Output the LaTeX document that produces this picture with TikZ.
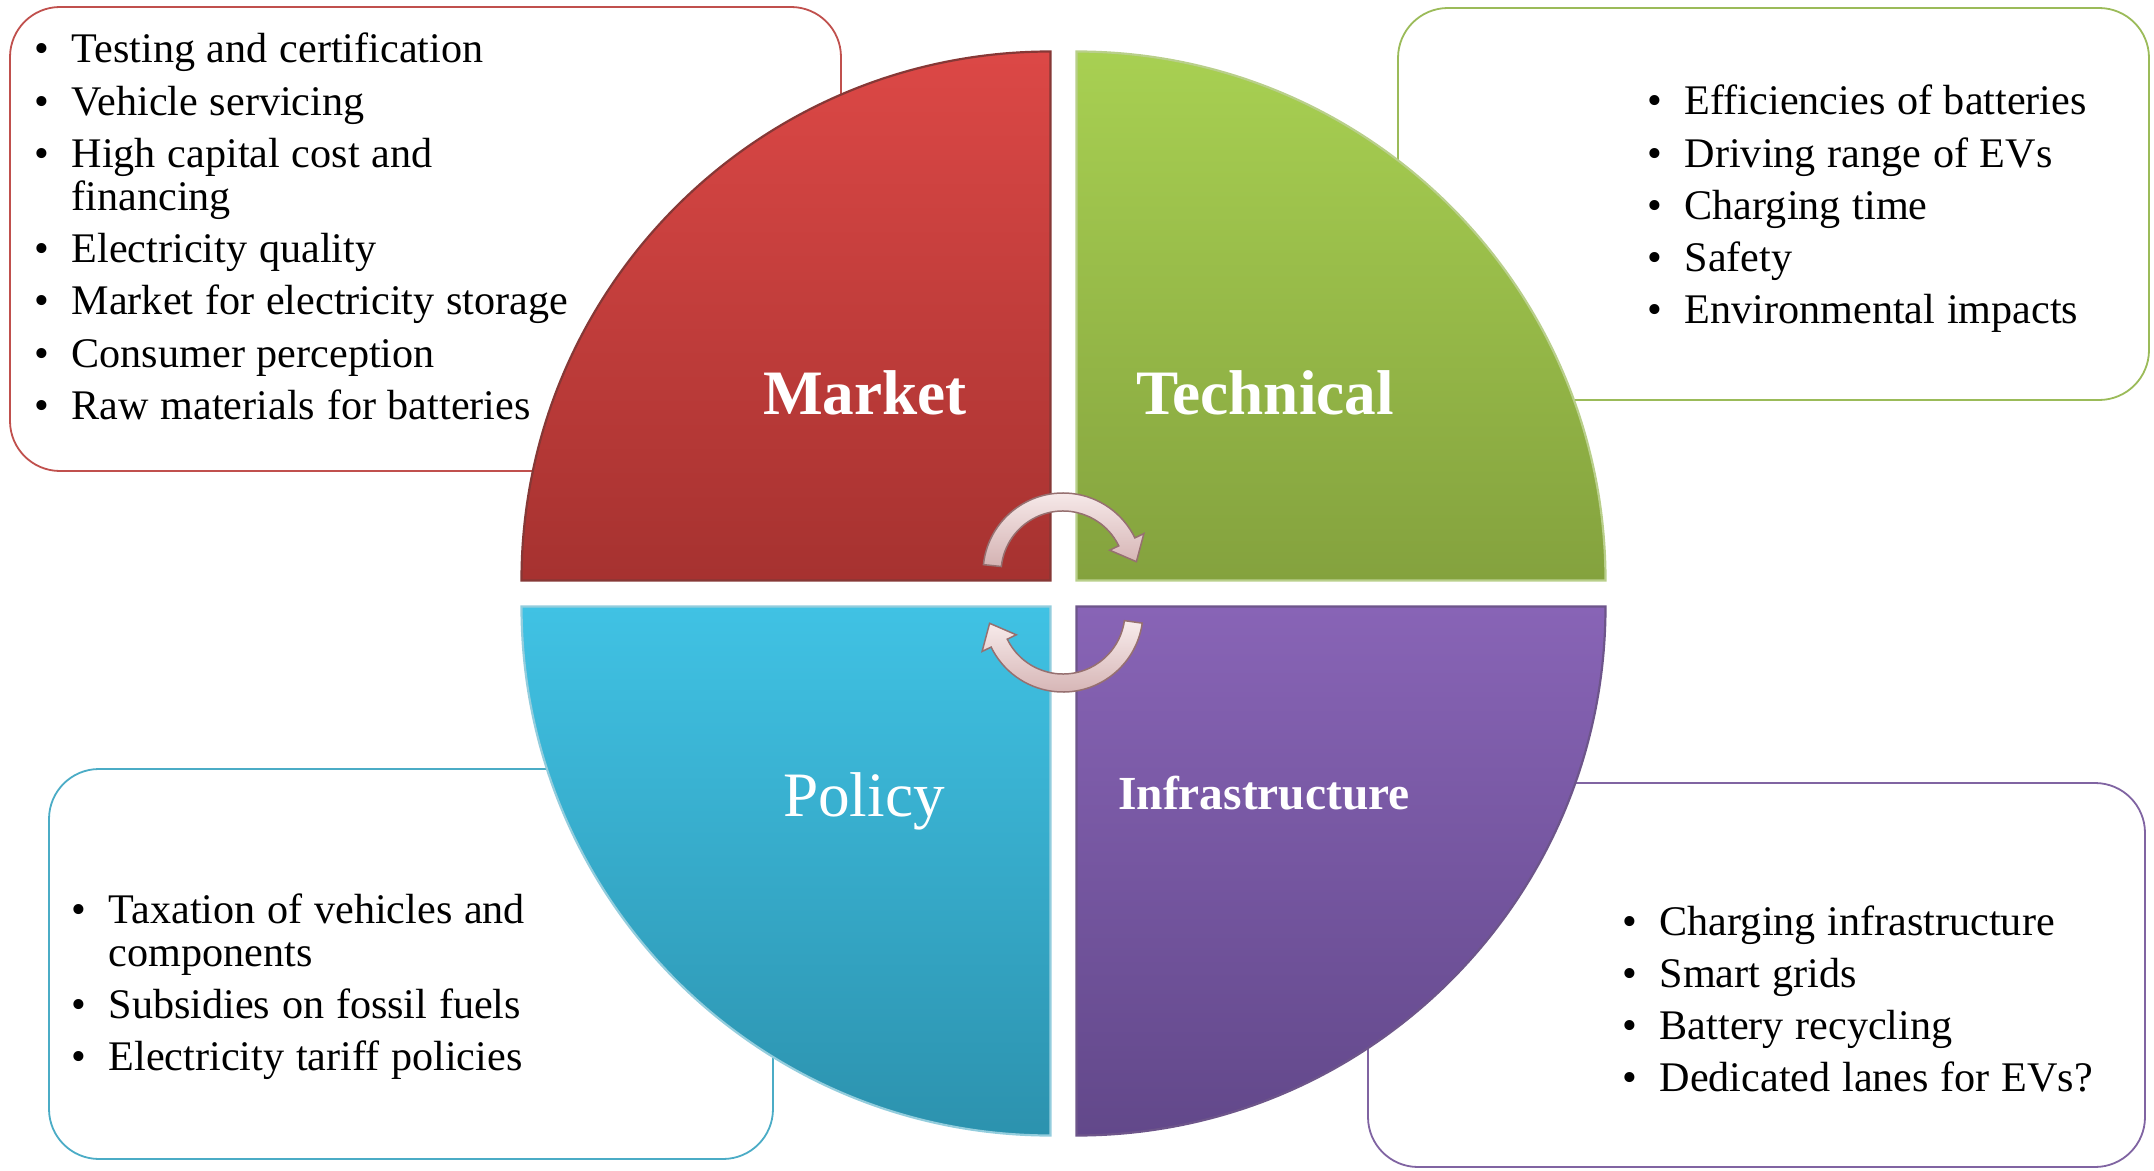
\documentclass[tikz,border=0pt]{standalone}
\usepackage{fontspec}
\setmainfont{Liberation Serif}
\usetikzlibrary{calc}

\definecolor{mktred}{HTML}{C0504D}
\definecolor{tecgreen}{HTML}{9BBB59}
\definecolor{polblue}{HTML}{4BACC6}
\definecolor{infpurple}{HTML}{8064A2}
\definecolor{mkttop}{RGB}{220,72,70}
\definecolor{mktbot}{RGB}{166,50,48}
\definecolor{tectop}{RGB}{168,208,82}
\definecolor{tecbot}{RGB}{132,162,62}
\definecolor{poltop}{RGB}{64,194,228}
\definecolor{polbot}{RGB}{44,146,174}
\definecolor{inftop}{RGB}{136,100,182}
\definecolor{infbot}{RGB}{98,72,138}
\definecolor{turnlight}{RGB}{248,236,236}
\definecolor{turndark}{RGB}{212,178,178}
\definecolor{turnedge}{RGB}{150,112,112}

\newlength{\bulind}\setlength{\bulind}{10.7pt}
\newcommand{\lstfont}{\fontsize{12}{12.5}\selectfont\setlength{\parskip}{2.3pt}}
\newcommand{\itm}[1]{\hangindent=\bulind\hangafter=1\noindent\makebox[\bulind][l]{\textbullet}#1\par}

\tikzset{
  listbox/.style={draw=#1, fill=white, line width=0.18mm, rounded corners=5mm},
  listtext/.style={anchor=base west, inner sep=0, text width=#1, align=left},
  quad/.style n args={3}{top color=#1, bottom color=#2, draw=#3, line width=0.22mm},
  title/.style={text=white, inner sep=0, anchor=base},
  turn/.style={draw=turnedge, line width=0.15mm, top color=turnlight, bottom color=turndark}
}

\begin{document}
\begin{tikzpicture}[x=0.1mm, y=0.1mm]
    \useasboundingbox (0,0) rectangle (2154,1170);
    \def\r{529}
    % boxes behind the disc
    \draw[listbox=mktred] (10,699) rectangle (841,1163);
    \draw[listbox=tecgreen] (1398,770) rectangle (2149,1162);
    \draw[listbox=polblue] (49,11) rectangle (773,401);
    \draw[listbox=infpurple] (1368,3) rectangle (2145,387);
    % quarter discs
    \draw[quad={mkttop}{mktbot}{mktred!70!black}] (1050.5,589.5) -- ++(-\r,0) arc (180:90:\r) -- cycle;
    \draw[quad={tectop}{tecbot}{tecgreen!70!white}] (1076.5,589.5) -- ++(0,\r) arc (90:0:\r) -- cycle;
    \draw[quad={poltop}{polbot}{polblue!60!white}] (1050.5,563.5) -- ++(-\r,0) arc (180:270:\r) -- cycle;
    \draw[quad={inftop}{infbot}{infpurple!85!black}] (1076.5,563.5) -- ++(\r,0) arc (0:-90:\r) -- cycle;
    % titles
    \node (mkt) [title, font=\fontsize{18}{20}\selectfont\bfseries] at (865,756) {Market};
    \node (tec) [title, font=\fontsize{18}{20}\selectfont\bfseries] at (1265,756) {Technical};
    \node (pol) [title, font=\fontsize{18}{20}\selectfont] at (864,354) {Policy};
    \node (inf) [title, font=\fontsize{13.5}{15}\selectfont\bfseries] at (1264,361) {Infrastructure};
    % lists
    \node (mlist) [listtext=75mm] at (33.4,1107) {\lstfont
      \itm{Testing and certification}
      \itm{Vehicle servicing}
      \itm{High capital cost and\newline financing}
      \itm{Electricity quality}
      \itm{Market for electricity storage}
      \itm{Consumer perception}
      \itm{Raw materials for batteries}};
    \node (tlist) [listtext=60mm] at (1646.4,1055) {\lstfont
      \itm{Efficiencies of batteries}
      \itm{Driving range of EVs}
      \itm{Charging time}
      \itm{Safety}
      \itm{Environmental impacts}};
    \node (plist) [listtext=60mm] at (70.4,247) {\lstfont
      \itm{Taxation of vehicles and\newline components}
      \itm{Subsidies on fossil fuels}
      \itm{Electricity tariff policies}};
    \node (ilist) [listtext=60mm] at (1621.4,235) {\lstfont
      \itm{Charging infrastructure}
      \itm{Smart grids}
      \itm{Battery recycling}
      \itm{Dedicated lanes for EVs?}};
    % turning arrows
    \coordinate (ta) at (1063,597);
    \coordinate (ba) at (1063,558);
    \draw[turn] ($(ta)+(174:80)$) arc (174:26:80) -- ($(ta)+(26:90)$) -- ($(ta)+(73.4,11.3)$)
      -- ($(ta)+(26:52)$) -- ($(ta)+(26:62)$) arc (26:174:62) -- cycle;
    \draw[turn] ($(ba)+(-8:80)$) arc (-8:-154:80) -- ($(ba)+(-154:90)$) -- ($(ba)+(-73.4,-11.3)$)
      -- ($(ba)+(-154:52)$) -- ($(ba)+(-154:62)$) arc (-154:-8:62) -- cycle;
\end{tikzpicture}
\end{document}
